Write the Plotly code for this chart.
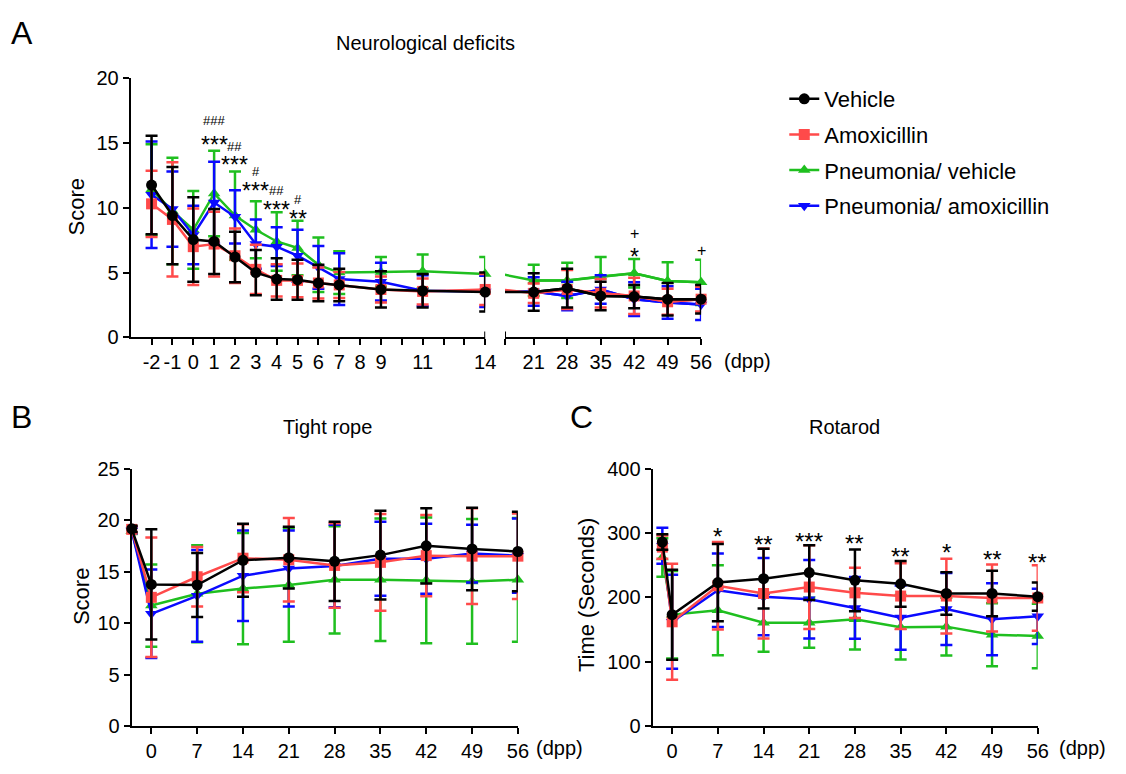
import plotly.graph_objects as go

W, H = 1126, 774
FONT = "Arial, 'Liberation Sans', Helvetica, sans-serif"

# ---------------- series meta ----------------
group_names = ["Vehicle", "Amoxicillin", "Pneumonia/ vehicle", "Pneumonia/ amoxicillin"]
group_colors = ["#000000", "#FF4A4A", "#1FBF1F", "#0A0AFF"]
group_symbols = ["circle", "square", "triangle-up", "triangle-down"]
draw_order = [2, 3, 1, 0]   # green, blue, red, black (black on top)

# ---------------- Panel A: Neurological deficits ----------------
a_days = [-2, -1, 0, 1, 2, 3, 4, 5, 6, 7, 9, 11, 14, 21, 28, 35, 42, 49, 56]
a_veh_mean = [11.75, 9.4, 7.55, 7.4, 6.2, 5.0, 4.5, 4.45, 4.2, 4.05, 3.7, 3.6, 3.5, 3.5, 3.8, 3.2, 3.15, 2.95, 2.95]
a_veh_sd = [3.8, 3.75, 3.25, 2.5, 1.95, 1.75, 1.6, 1.55, 1.4, 1.25, 1.4, 1.3, 1.5, 1.45, 1.5, 1.1, 0.9, 1.25, 1.1]
a_amx_mean = [10.3, 9.1, 7.0, 7.2, 6.3, 5.25, 4.4, 4.4, 4.2, 4.05, 3.7, 3.55, 3.7, 3.4, 3.7, 3.4, 3.2, 2.75, 2.95]
a_amx_sd = [2.55, 4.4, 2.95, 2.5, 2.1, 1.9, 1.25, 1.3, 1.2, 1.0, 1.0, 1.0, 1.2, 0.75, 1.5, 1.1, 1.4, 1.0, 0.95]
a_pv_mean = [11.4, 9.75, 8.3, 11.1, 9.4, 8.3, 7.4, 6.9, 5.6, 5.0, 5.05, 5.1, 4.9, 4.4, 4.4, 4.7, 4.95, 4.35, 4.25]
a_pv_sd = [3.5, 4.1, 3.0, 3.3, 3.4, 2.2, 2.25, 2.1, 2.1, 1.65, 1.15, 1.3, 1.3, 1.2, 1.35, 1.5, 1.1, 1.45, 1.75]
a_pa_mean = [11.0, 9.9, 7.9, 10.4, 9.3, 7.2, 7.0, 6.3, 5.4, 4.5, 4.3, 3.6, 3.55, 3.55, 3.2, 3.7, 2.95, 2.7, 2.55]
a_pa_sd = [4.1, 2.9, 2.25, 3.15, 2.05, 1.9, 1.5, 2.0, 1.65, 2.0, 1.45, 1.2, 1.2, 1.1, 1.1, 1.1, 1.3, 1.25, 1.2]
a_split_day = 14
a_left_ticks = list(range(-2, 15))
a_left_ticktext = ["-2", "-1", "0", "1", "2", "3", "4", "5", "6", "7", "8", "9", "", "11", "", "", "14"]
a_right_ticks = [15, 21, 28, 35, 42, 49, 56]
a_right_ticktext = ["", "21", "28", "35", "42", "49", "56"]

a_star_days = [1, 2, 3, 4, 5, 42]
a_star_text = ["***", "***", "***", "***", "**", "*"]
a_star_y = [15.4, 13.8, 11.85, 10.4, 9.65, 6.75]
a_hash_days = [1, 2, 3, 4, 5, 42, 56]
a_hash_text = ["###", "##", "#", "##", "#", "+", "+"]
a_hash_y = [16.7, 14.75, 12.8, 11.3, 10.6, 8.0, 6.7]

# ---------------- Panel B: Tight rope ----------------
b_days = [-3, 0, 7, 14, 21, 28, 35, 42, 49, 56]
b_veh_mean = [19.15, 13.75, 13.7, 16.1, 16.35, 16.0, 16.6, 17.5, 17.2, 16.95]
b_veh_sd = [0.3, 5.35, 3.1, 3.55, 3.0, 3.85, 4.3, 3.65, 4.0, 3.85]
b_amx_mean = [19.1, 12.5, 14.5, 16.3, 16.15, 15.6, 15.9, 16.55, 16.5, 16.5]
b_amx_sd = [0.3, 5.8, 2.9, 3.3, 4.05, 4.1, 4.7, 3.95, 4.65, 4.15]
b_pv_mean = [18.95, 11.7, 12.85, 13.35, 13.7, 14.2, 14.2, 14.15, 14.05, 14.2]
b_pv_sd = [0.3, 4.0, 4.7, 5.4, 5.5, 5.2, 5.95, 6.1, 6.05, 6.0]
b_pa_mean = [19.0, 10.9, 12.65, 14.6, 15.3, 15.55, 16.25, 16.25, 16.75, 16.55]
b_pa_sd = [0.3, 4.3, 4.45, 4.4, 3.7, 4.0, 3.6, 3.4, 2.8, 3.6]
bc_ticks = [0, 7, 14, 21, 28, 35, 42, 49, 56]

# ---------------- Panel C: Rotarod ----------------
c_days = [-1.5, 0, 7, 14, 21, 28, 35, 42, 49, 56]
c_veh_mean = [286, 173, 223, 229, 238.5, 226.5, 221, 206, 206, 201]
c_veh_sd = [12, 70, 60, 46.5, 42.5, 48, 35.5, 33, 35.5, 22]
c_amx_mean = [278, 162, 218, 206, 216, 207, 202, 202, 199, 199]
c_amx_sd = [18, 90, 68, 70, 65, 39, 51, 58, 52, 51]
c_pv_mean = [262, 173, 180, 160.5, 160.5, 166, 153.5, 154.5, 142, 140]
c_pv_sd = [30, 68, 70, 45, 39, 47, 50, 45, 49, 50]
c_pa_mean = [280, 162, 211, 201, 197, 183.5, 168.5, 182, 166, 170.5]
c_pa_sd = [28, 73, 57, 60, 61, 48, 50, 56, 56, 43]
c_star_days = [7, 14, 21, 28, 35, 42, 49, 56]
c_star_text = ["*", "**", "***", "**", "**", "*", "**", "**"]
c_star_y = [305, 293, 298, 294, 275, 280, 269, 265]

a_means = [a_veh_mean, a_amx_mean, a_pv_mean, a_pa_mean]
a_sds = [a_veh_sd, a_amx_sd, a_pv_sd, a_pa_sd]
b_means = [b_veh_mean, b_amx_mean, b_pv_mean, b_pa_mean]
b_sds = [b_veh_sd, b_amx_sd, b_pv_sd, b_pa_sd]
c_means = [c_veh_mean, c_amx_mean, c_pv_mean, c_pa_mean]
c_sds = [c_veh_sd, c_amx_sd, c_pv_sd, c_pa_sd]


def px(x):
    return x / W


def py(y):
    return 1 - y / H


LW = 2.5
fig = go.Figure()


def add_series(x, y, sd, i, xa, ya, showlegend=False, mode="lines+markers", errors=True, size=11):
    col = group_colors[i]
    kw = dict(
        x=x, y=y, xaxis=xa, yaxis=ya, mode=mode,
        name=group_names[i], legendgroup=group_names[i], showlegend=showlegend,
        legendrank=i + 1,
        line=dict(color=col, width=LW),
        marker=dict(symbol=group_symbols[i], size=size, color=col, line=dict(width=0)),
        cliponaxis=False, hoverinfo="skip",
    )
    if errors:
        kw["error_y"] = dict(type="data", array=sd, visible=True, color=col, thickness=2.5, width=6)
    fig.add_trace(go.Scatter(**kw))


split = a_days.index(a_split_day)
for i in draw_order:
    # left segment of panel A
    add_series(a_days[:split + 1], a_means[i][:split + 1], a_sds[i][:split + 1], i, "x", "y",
               showlegend=True)
    # connecting line into right segment (clipped at the axis break)
    add_series(a_days[split:], a_means[i][split:], None, i, "x2", "y", mode="lines", errors=False)
    # right segment markers
    add_series(a_days[split + 1:], a_means[i][split + 1:], a_sds[i][split + 1:], i, "x2", "y")
    # panel B
    add_series(b_days, b_means[i], b_sds[i], i, "x3", "y3")
    # panel C
    add_series(c_days, c_means[i], c_sds[i], i, "x4", "y4")

axis_common = dict(
    showline=True, linewidth=2, linecolor="black", ticks="outside", ticklen=6, tickwidth=2,
    tickcolor="black", showgrid=False, zeroline=False,
    tickfont=dict(family=FONT, size=20, color="black"),
)

fig.update_layout(
    width=W, height=H, margin=dict(l=0, r=0, t=0, b=0),
    paper_bgcolor="white", plot_bgcolor="white",
    font=dict(family=FONT, color="black"),
    xaxis=dict(domain=[px(132), px(490)], range=[-3, 14], anchor="y",
               tickmode="array", tickvals=a_left_ticks, ticktext=a_left_ticktext, **axis_common),
    xaxis2=dict(domain=[px(510), px(708)], range=[15, 56], anchor="y",
                tickmode="array", tickvals=a_right_ticks, ticktext=a_right_ticktext, **axis_common),
    yaxis=dict(domain=[py(336), py(69)], range=[0, 20], anchor="x", tickmode="array",
               tickvals=[0, 5, 10, 15, 20], **axis_common),
    xaxis3=dict(domain=[px(133), px(523)], range=[-3, 56], anchor="y3",
                tickmode="array", tickvals=bc_ticks, **axis_common),
    yaxis3=dict(domain=[py(736), py(471)], range=[0, 25], anchor="x3", tickmode="array",
                tickvals=[0, 5, 10, 15, 20, 25], **axis_common),
    xaxis4=dict(domain=[px(659), px(1048)], range=[-3, 56], anchor="y4",
                tickmode="array", tickvals=bc_ticks, **axis_common),
    yaxis4=dict(domain=[py(736), py(471)], range=[0, 400], anchor="x4", tickmode="array",
                tickvals=[0, 100, 200, 300, 400], **axis_common),
    legend=dict(x=px(792), y=py(69), xanchor="left", yanchor="top",
                font=dict(family=FONT, size=22, color="black"), tracegroupgap=4,
                bgcolor="rgba(0,0,0,0)", itemwidth=30),
    showlegend=True,
)

# axis-break end caps
fig.add_shape(type="line", xref="x", yref="paper", x0=14, x1=14, y0=py(330), y1=py(342),
              line=dict(color="black", width=2))
fig.add_shape(type="line", xref="x2", yref="paper", x0=15, x1=15, y0=py(330), y1=py(342),
              line=dict(color="black", width=2))

ann = []


def text(x, y, s, size, xanchor="center", yanchor="middle", textangle=0):
    ann.append(dict(x=px(x), y=py(y), xref="paper", yref="paper", text=s, showarrow=False,
                    font=dict(family=FONT, size=size, color="black"),
                    xanchor=xanchor, yanchor=yanchor, textangle=textangle))


# panel letters and titles
text(22, 23, "A", 32)
text(22, 418, "B", 32)
text(587, 418, "C", 32)
text(430, 33, "Neurological deficits", 20)
text(331, 428, "Tight rope", 20)
text(853, 428, "Rotarod", 20)
# axis titles
text(77, 202, "Score", 22, textangle=-90)
text(83, 603, "Score", 22, textangle=-90)
text(593, 601, "Time (Seconds)", 22, textangle=-90)
# units
text(729, 360, "(dpp)", 20, xanchor="left")
text(539, 759, "(dpp)", 20, xanchor="left")
text(1067, 759, "(dpp)", 20, xanchor="left")

# significance marks (data coordinates)
for d, s, yv in zip(a_star_days, a_star_text, a_star_y):
    ann.append(dict(x=d, y=yv, xref="x" if d <= 14 else "x2", yref="y", text=s, showarrow=False,
                    font=dict(family=FONT, size=23, color="black"), yshift=-7))
for d, s, yv in zip(a_hash_days, a_hash_text, a_hash_y):
    ann.append(dict(x=d, y=yv, xref="x" if d <= 14 else "x2", yref="y", text=s, showarrow=False,
                    font=dict(family=FONT, size=13 if s.startswith("#") else 16, color="black")))
for d, s, yv in zip(c_star_days, c_star_text, c_star_y):
    ann.append(dict(x=d, y=yv, xref="x4", yref="y4", text=s, showarrow=False,
                    font=dict(family=FONT, size=24, color="black"), yshift=-7))

fig.update_layout(annotations=ann)

fig.write_html("out.html", config={"displayModeBar": False},
               post_script="document.body.style.margin='0';document.body.style.padding='0';")
